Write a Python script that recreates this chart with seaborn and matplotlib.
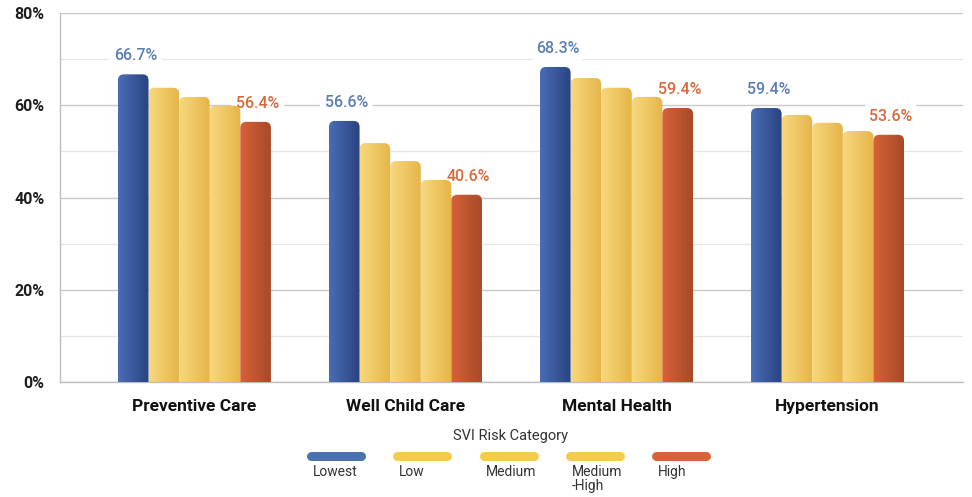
import numpy as np
import pandas as pd
import matplotlib
matplotlib.use("Agg")
import matplotlib.pyplot as plt
from matplotlib.colors import LinearSegmentedColormap
from matplotlib.patches import FancyBboxPatch
from matplotlib.lines import Line2D
from matplotlib.ticker import FuncFormatter, MultipleLocator
import seaborn as sns

# ---- data ----
measures = ["Preventive Care", "Well Child Care", "Mental Health", "Hypertension"]
risk_levels = ["Lowest", "Low", "Medium", "Medium\n-High", "High"]
lowest = [66.7, 56.6, 68.3, 59.4]
low = [63.8, 51.8, 65.9, 57.9]
medium = [61.8, 47.9, 63.8, 56.2]
medium_high = [59.9, 43.8, 61.8, 54.4]
high = [56.4, 40.6, 59.4, 53.6]
y_ticks = [0, 20, 40, 60, 80]

series = [lowest, low, medium, medium_high, high]
df = pd.DataFrame(
    [(m, r, s[i]) for r, s in zip(risk_levels, series) for i, m in enumerate(measures)],
    columns=["Measure", "Risk", "Rate"],
)

# ---- styling ----
sns.set_theme(style="white")
plt.rcParams["font.family"] = ["Roboto", "DejaVu Sans"]

flat_colors = ["#3F62A8", "#F3CB55", "#F3CB55", "#F3CB55", "#C9562E"]
gradients = [
    ("#4A6DB5", "#2A4380"),
    ("#F7D87E", "#E6B549"),
    ("#F7D87E", "#E6B549"),
    ("#F7D87E", "#E6B549"),
    ("#D7613A", "#A84A26"),
]
legend_colors = ["#4A72B0", "#F5CB4E", "#F5CB4E", "#F5CB4E", "#D4643A"]
label_colors = {0: "#5B7DB5", 4: "#D9693A"}

fig = plt.figure(figsize=(9.72, 4.97), dpi=100, facecolor="white")
ax = fig.add_axes([60 / 972, 1 - 382 / 497, 903 / 972, 369 / 497])

sns.barplot(
    data=df, x="Measure", y="Rate", hue="Risk", order=measures,
    hue_order=risk_levels, palette=flat_colors, width=0.725, gap=0,
    errorbar=None, legend=False, ax=ax, saturation=1,
)

xlim = (-0.637, 3.642)
ylim = (0, 80)
ax.set_xlim(*xlim)
ax.set_ylim(*ylim)

# pixel-based rounding radius converted into data units
px_x = (xlim[1] - xlim[0]) / 903
px_y = (ylim[1] - ylim[0]) / 369
r_px = 6
rx = r_px * px_x
aspect = (r_px * px_y) / rx

for k, container in enumerate(ax.containers):
    cmap = LinearSegmentedColormap.from_list(f"g{k}", list(gradients[k]))
    grad = np.linspace(0, 1, 64).reshape(1, -1)
    for bar in container:
        x0 = bar.get_x()
        w = bar.get_width()
        h = bar.get_height()
        bar.set_visible(False)
        clip = FancyBboxPatch(
            (x0, -5), w, h + 5,
            boxstyle=f"round,pad=0,rounding_size={rx}",
            mutation_aspect=aspect, transform=ax.transData,
            facecolor="none", edgecolor="none",
        )
        ax.add_patch(clip)
        im = ax.imshow(grad, cmap=cmap, aspect="auto",
                       extent=(x0, x0 + w, -5, h), zorder=3,
                       interpolation="bilinear")
        im.set_clip_path(clip)
        if k in label_colors:
            ax.text(x0 + w / 2 + 0.01, h + 2.4, f"{h:.1f}%", ha="center", va="bottom",
                    fontsize=11.5, fontweight="medium", color=label_colors[k],
                    zorder=2.5,
                    bbox=dict(boxstyle="round,pad=0.3", fc="white", ec="none"))

ax.set_xlim(*xlim)
ax.set_ylim(*ylim)

# axes, grid, ticks
ax.set_yticks(y_ticks)
ax.yaxis.set_minor_locator(MultipleLocator(10))
ax.yaxis.set_major_formatter(FuncFormatter(lambda v, p: f"{v:.0f}%"))
ax.grid(axis="y", which="major", color="#C8C8C8", linewidth=1.0)
ax.grid(axis="y", which="minor", color="#E6E6E6", linewidth=0.9)
ax.set_axisbelow(True)
for side in ["top", "right"]:
    ax.spines[side].set_visible(False)
for side in ["left", "bottom"]:
    ax.spines[side].set_color("#BDBDBD")
    ax.spines[side].set_linewidth(1.0)
ax.tick_params(axis="y", which="both", length=0, pad=11, labelsize=11.5,
               labelcolor="#1E1E1E")
ax.tick_params(axis="x", length=0, pad=12, labelsize=12.5, labelcolor="#111111")
for t in ax.get_yticklabels():
    t.set_fontweight("bold")
for t in ax.get_xticklabels():
    t.set_fontweight("bold")
ax.set_xlabel("")
ax.set_ylabel("")
ax.set_facecolor("none")

# legend: title, rounded swatches, labels underneath
fig.text(510 / 972, 1 - 436 / 497, "SVI Risk Category", ha="center", va="center",
         fontsize=10.5, color="#333333")
for i, (name, col) in enumerate(zip(risk_levels, legend_colors)):
    x_left = (311 + i * 86.3) / 972
    x_right = x_left + 50 / 972
    y = 1 - 456 / 497
    fig.add_artist(Line2D([x_left, x_right], [y, y], transform=fig.transFigure,
                          color=col, linewidth=6.5, solid_capstyle="round"))
    fig.text(x_left + 2 / 972, 1 - 465 / 497, name, ha="left", va="top",
             fontsize=10, color="#333333", linespacing=1.0)

fig.savefig("out.png", dpi=100, facecolor="white")
